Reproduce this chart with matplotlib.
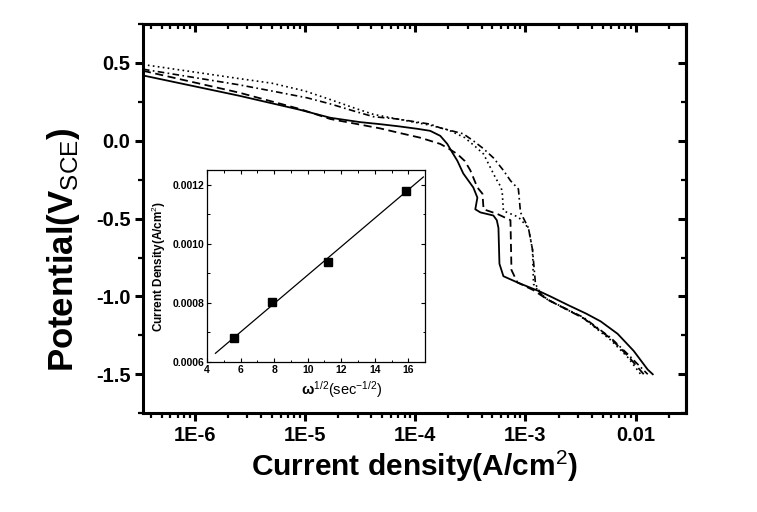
import numpy as np
import matplotlib
matplotlib.use('Agg')
import matplotlib.pyplot as plt
from matplotlib.ticker import FixedLocator, LogLocator, NullFormatter, MultipleLocator, FormatStrFormatter

plt.rcParams['font.family'] = ['Liberation Sans', 'DejaVu Sans']
plt.rcParams['mathtext.fontset'] = 'custom'
plt.rcParams['mathtext.rm'] = 'Liberation Sans'
plt.rcParams['mathtext.it'] = 'Liberation Sans:italic'
plt.rcParams['mathtext.bf'] = 'Liberation Sans:bold'

# polarization curves: log10(current density), potential (V vs SCE)
solid_logi = [-6.47, -5.6, -5.05, -4.77, -4.5, -4.32, -4.15, -3.98, -3.864, -3.773, -3.709,
              -3.664, -3.618, -3.564, -3.473, -3.436, -3.455, -3.409, -3.291, -3.26, -3.245,
              -3.236, -3.2, -3.073, -2.864, -2.773, -2.6, -2.45, -2.318, -2.164, -2.018,
              -1.891, -1.845]
solid_e = [0.42, 0.29, 0.20, 0.148, 0.12, 0.107, 0.093, 0.077, 0.064, 0.032, -0.02,
           -0.075, -0.128, -0.21, -0.30, -0.365, -0.44, -0.46, -0.48, -0.51, -0.56,
           -0.79, -0.87, -0.91, -0.97, -1.0, -1.06, -1.11, -1.16, -1.24, -1.35,
           -1.47, -1.5]

dash_logi = [-6.47, -5.6, -5.05, -4.77, -4.32, -4.14, -3.955, -3.864, -3.773, -3.709, -3.618,
             -3.55, -3.5, -3.436, -3.39, -3.38, -3.255, -3.136, -3.127, -3.073, -2.927,
             -2.8, -2.473, -2.227, -2.073, -1.927]
dash_e = [0.45, 0.31, 0.205, 0.14, 0.08, 0.05, 0.02, 0.0, -0.02, -0.045, -0.085,
          -0.13, -0.19, -0.30, -0.34, -0.44, -0.47, -0.51, -0.83, -0.91, -0.96,
          -1.02, -1.14, -1.27, -1.38, -1.5]

dot_logi = [-6.47, -5.6, -5.3, -5.0, -4.77, -4.55, -4.38, -4.16, -3.864, -3.7, -3.55, -3.45,
            -3.38, -3.27, -3.22, -3.21, -3.2, -3.064, -2.973, -2.936, -2.927, -2.88, -2.8,
            -2.473, -2.227, -2.073, -1.955]
dot_e = [0.49, 0.40, 0.37, 0.32, 0.265, 0.21, 0.17, 0.14, 0.10, 0.07, 0.02, -0.04,
         -0.085, -0.24, -0.30, -0.34, -0.45, -0.49, -0.56, -0.70, -0.92, -0.97, -1.02,
         -1.14, -1.28, -1.39, -1.5]

dashdot_logi = [-6.47, -5.6, -5.3, -4.98, -4.77, -4.55, -4.38, -4.16, -3.864, -3.773, -3.564,
                -3.473, -3.382, -3.29, -3.2, -3.136, -3.064, -3.045, -2.973, -2.936, -2.909,
                -2.864, -2.8, -2.473, -2.227, -2.073, -1.891]
dashdot_e = [0.46, 0.36, 0.32, 0.276, 0.237, 0.19, 0.155, 0.14, 0.107, 0.083, 0.045,
             0.0, -0.05, -0.11, -0.19, -0.256, -0.31, -0.46, -0.56, -0.70, -0.92,
             -0.98, -1.02, -1.135, -1.265, -1.37, -1.5]

# inset: limiting current vs omega^1/2
omega_sqrt = [5.6, 7.9, 11.2, 15.85]
i_lim = [0.00068, 0.000803, 0.00094, 0.00118]
fit_range = [4.5, 16.9]

xticks = [1e-6, 1e-5, 1e-4, 1e-3, 1e-2]
xticklabels = ['1E-6', '1E-5', '1E-4', '1E-3', '0.01']
yticks = [0.5, 0.0, -0.5, -1.0, -1.5]

fig = plt.figure(figsize=(7.57, 5.12), dpi=100)
ax = fig.add_axes([0.189, 0.193, 0.717, 0.760])

ax.plot(10 ** np.array(solid_logi), solid_e, color='black', lw=1.3, ls='-')
ax.plot(10 ** np.array(dash_logi), dash_e, color='black', lw=1.3, ls=(0, (4.5, 2.5)))
ax.plot(10 ** np.array(dot_logi), dot_e, color='black', lw=1.2, ls=(0, (1, 2)))
ax.plot(10 ** np.array(dashdot_logi), dashdot_e, color='black', lw=1.2, ls=(0, (4, 2, 1, 2)))

ax.set_xscale('log')
ax.set_xlim(3.4e-7, 2.85e-2)
ax.set_ylim(-1.75, 0.75)
ax.xaxis.set_major_locator(FixedLocator(xticks))
ax.set_xticklabels(xticklabels)
ax.xaxis.set_minor_locator(LogLocator(base=10, subs=np.arange(2, 10), numticks=20))
ax.xaxis.set_minor_formatter(NullFormatter())
ax.set_yticks(yticks)
ax.set_yticklabels(['%.1f' % v for v in yticks])
ax.yaxis.set_minor_locator(MultipleLocator(0.25))

for s in ax.spines.values():
    s.set_linewidth(2.2)
ax.tick_params(which='major', direction='out', length=6, width=2.2,
               labelsize=14.5, pad=3)
ax.tick_params(which='minor', direction='out', length=3.5, width=1.6)
for lab in ax.get_xticklabels() + ax.get_yticklabels():
    lab.set_fontweight('bold')

# inward ticks on the top and right
ax_top = ax.secondary_xaxis('top')
ax_top.set_xticks(xticks)
ax_top.xaxis.set_minor_locator(LogLocator(base=10, subs=np.arange(2, 10), numticks=20))
ax_top.tick_params(which='major', direction='in', length=6, width=2.2, labeltop=False)
ax_top.tick_params(which='minor', direction='in', length=3.5, width=1.6)
ax_top.xaxis.set_minor_formatter(NullFormatter())
ax_top.spines['top'].set_linewidth(2.2)
ax_right = ax.secondary_yaxis('right')
ax_right.set_yticks(yticks)
ax_right.yaxis.set_minor_locator(MultipleLocator(0.25))
ax_right.tick_params(which='major', direction='in', length=6, width=2.2, labelright=False)
ax_right.tick_params(which='minor', direction='in', length=3.5, width=1.6)
ax_right.spines['right'].set_linewidth(2.2)

ax.set_xlabel('Current density(A/cm$^2$)', fontsize=21.5, fontweight='bold', labelpad=3)
ax.set_ylabel(r'Potential(V$_{\rm SCE}$)', fontsize=25, fontweight='bold')
ax.yaxis.set_label_coords(-0.112, 0.42)

# inset
ins = fig.add_axes([0.2735, 0.293, 0.288, 0.375])
ins.plot(omega_sqrt, i_lim, 's', color='black', ms=5.5)
coef = np.polyfit(omega_sqrt, i_lim, 1)
fx = np.array(fit_range)
ins.plot(fx, np.polyval(coef, fx), color='black', lw=0.9)
ins.set_xlim(4, 17)
ins.set_ylim(0.0006, 0.00125)
ins.xaxis.set_major_locator(MultipleLocator(2))
ins.xaxis.set_minor_locator(MultipleLocator(1))
ins.yaxis.set_major_locator(MultipleLocator(0.0002))
ins.yaxis.set_minor_locator(MultipleLocator(0.0001))
ins.yaxis.set_major_formatter(FormatStrFormatter('%.4f'))
ins.tick_params(which='both', direction='in', top=True, right=True, labelsize=7.5, pad=2)
ins.tick_params(which='major', length=3, width=0.8)
ins.tick_params(which='minor', length=1.8, width=0.7)
for s in ins.spines.values():
    s.set_linewidth(0.9)
for lab in ins.get_xticklabels() + ins.get_yticklabels():
    lab.set_fontweight('bold')
ins.set_xlabel(r'$\mathbf{\omega}^{1/2}$(sec$^{-1/2}$)', fontsize=10.5, labelpad=1)
ins.xaxis.set_label_coords(0.62, -0.09)
ins.set_ylabel('Current Density(A/cm$^2$)', fontsize=8.5, fontweight='bold', labelpad=3)

fig.savefig('out.png', dpi=100)
